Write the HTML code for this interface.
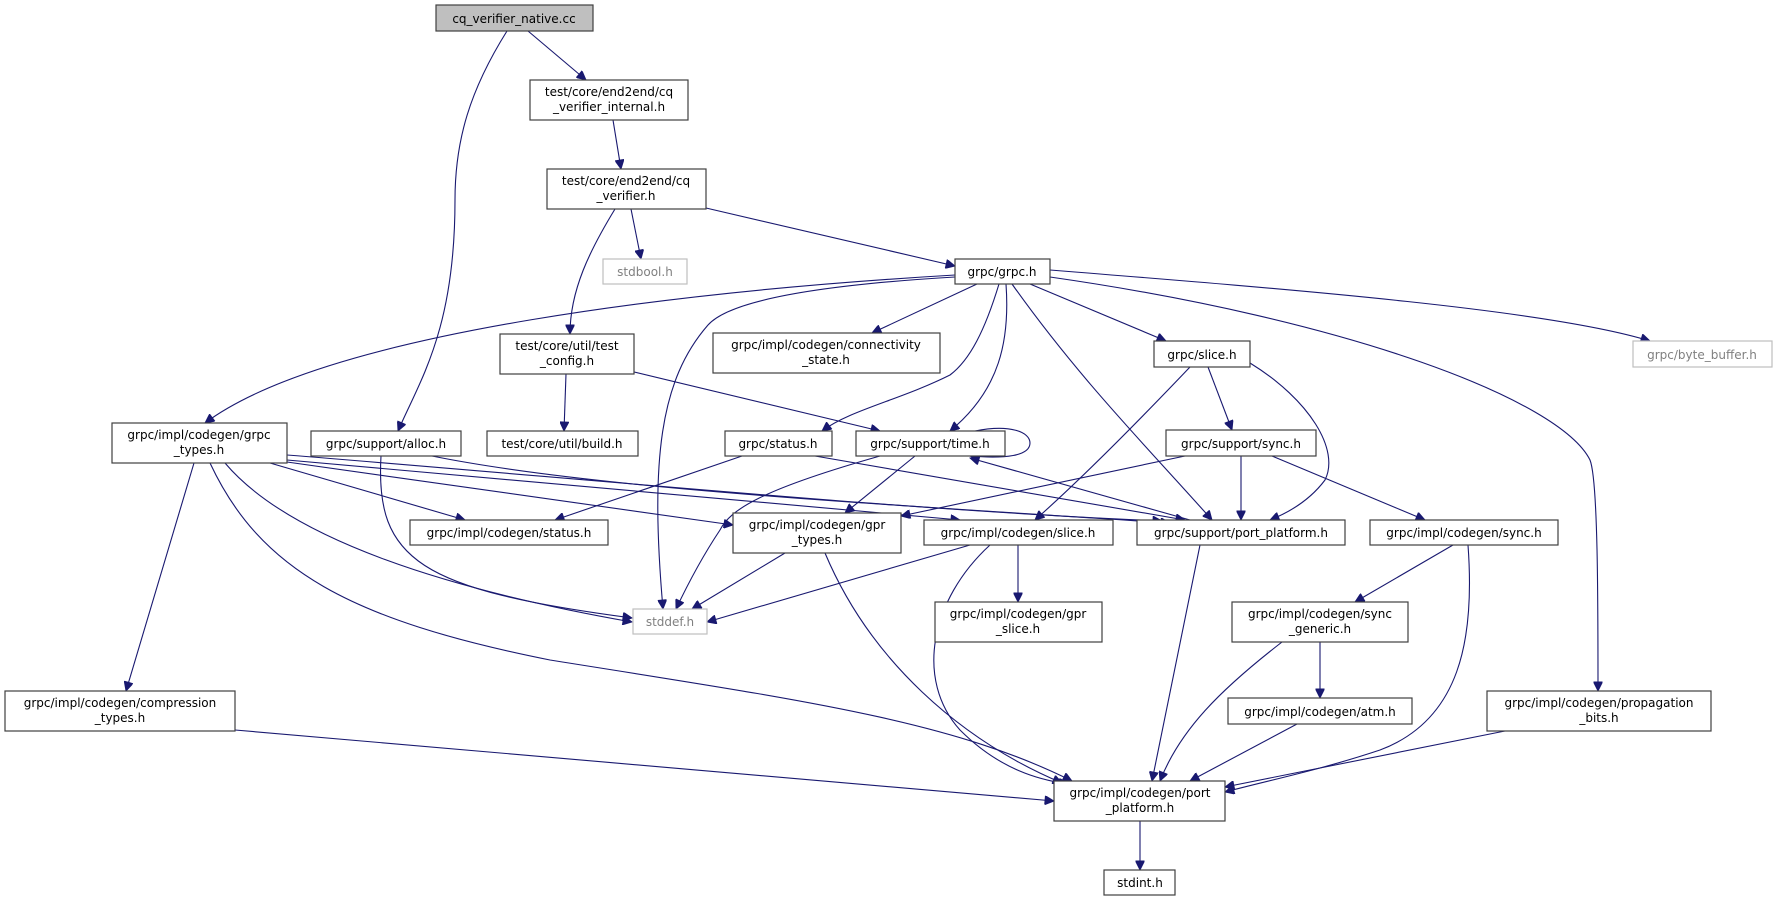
<!DOCTYPE html>
<html><head><meta charset="utf-8"><style>
html,body{margin:0;padding:0;background:#fff;}
svg{display:block}
text{font-family:"DejaVu Sans","Liberation Sans",sans-serif;font-size:12px;fill:#000;text-anchor:middle}
.b{fill:#fff;stroke:#404040;stroke-width:1.2}
.g{fill:#fff;stroke:#bfbfbf;stroke-width:1.2}
.e{fill:none;stroke:#191970;stroke-width:1.1}
.t{fill:#808080}
</style></head><body>
<svg width="1777" height="901" viewBox="0 0 1777 901" xmlns="http://www.w3.org/2000/svg">
<defs><marker id="a" viewBox="0 0 10 10" refX="10" refY="5" markerWidth="11" markerHeight="9" markerUnits="userSpaceOnUse" orient="auto"><path d="M0,0 L10,5 L0,10 z" fill="#191970" stroke="#191970"/></marker></defs>
<g marker-end="url(#a)">
<path class="e" d="M528,31 L586,80"/>
<path class="e" d="M507,31 C470,90 455,140 455,200 C455,330 420,380 398,431"/>
<path class="e" d="M613,120 L621,169"/>
<path class="e" d="M631,209 L641,259"/>
<path class="e" d="M706,208 L955,266"/>
<path class="e" d="M615,209 C590,250 570,290 570,334"/>
<path class="e" d="M977,284 L872,333"/>
<path class="e" d="M1030,284 L1166,341"/>
<path class="e" d="M1050,270 C1300,290 1550,310 1650,341"/>
<path class="e" d="M955,275 C700,290 330,330 205,423"/>
<path class="e" d="M955,277 C820,285 730,300 708,325 C660,380 650,460 663,609"/>
<path class="e" d="M999,284 C985,330 970,360 950,375 C900,400 850,410 822,431"/>
<path class="e" d="M1006,284 C1010,340 1000,390 950,431"/>
<path class="e" d="M1012,284 C1080,380 1150,450 1212,520"/>
<path class="e" d="M1050,277 C1350,320 1560,400 1590,460 C1598,480 1598,600 1598,691"/>
<path class="e" d="M566,374 L564,431"/>
<path class="e" d="M634,372 L880,431"/>
<path class="e" d="M1208,367 L1232,430"/>
<path class="e" d="M1190,367 C1130,430 1080,480 1035,520"/>
<path class="e" d="M1250,363 C1310,400 1340,450 1325,480 C1310,500 1290,512 1270,520"/>
<path class="e" d="M270,463 L465,520"/>
<path class="e" d="M287,462 L733,525"/>
<path class="e" d="M287,460 L960,520"/>
<path class="e" d="M287,455 C600,480 900,510 1162,521"/>
<path class="e" d="M225,463 C290,540 450,590 632,622"/>
<path class="e" d="M194,463 L126,691"/>
<path class="e" d="M210,463 C260,570 350,620 550,660 C800,700 950,720 1072,781"/>
<path class="e" d="M432,456 C600,490 900,505 1170,523"/>
<path class="e" d="M381,456 C375,560 420,590 632,618"/>
<path class="e" d="M742,456 L555,520"/>
<path class="e" d="M815,456 L1185,520"/>
<path class="e" d="M975,431 C1010,424 1030,432 1030,443 C1030,456 1005,459 970,456"/>
<path class="e" d="M915,456 L845,513"/>
<path class="e" d="M880,456 C760,490 730,510 720,530 C700,560 685,590 676,609"/>
<path class="e" d="M1185,456 L901,516"/>
<path class="e" d="M1241,456 L1241,520"/>
<path class="e" d="M1272,456 L1425,520"/>
<path class="e" d="M1190,520 L970,458"/>
<path class="e" d="M970,545 L707,622"/>
<path class="e" d="M1018,545 L1018,602"/>
<path class="e" d="M990,545 C930,600 915,680 960,730 C1000,770 1040,780 1068,784"/>
<path class="e" d="M785,553 L692,609"/>
<path class="e" d="M825,553 C870,660 960,740 1062,783"/>
<path class="e" d="M1200,545 L1152,781"/>
<path class="e" d="M1453,545 L1355,602"/>
<path class="e" d="M1468,545 C1475,640 1460,720 1380,750 C1320,770 1270,780 1225,792"/>
<path class="e" d="M1282,642 C1220,690 1180,730 1160,781"/>
<path class="e" d="M1320,642 L1320,698"/>
<path class="e" d="M1297,724 L1190,781"/>
<path class="e" d="M1505,731 L1225,787"/>
<path class="e" d="M235,730 L1054,801"/>
<path class="e" d="M1140,821 L1140,870"/>
</g>
<rect x="436" y="5" width="157" height="26" fill="#bfbfbf" stroke="#404040" stroke-width="1.2"/><text x="514" y="23">cq_verifier_native.cc</text>
<rect class="b" x="530" y="80" width="158" height="40"/><text x="609" y="96">test/core/end2end/cq</text><text x="609" y="111">_verifier_internal.h</text>
<rect class="b" x="547" y="169" width="159" height="40"/><text x="626" y="185">test/core/end2end/cq</text><text x="626" y="200">_verifier.h</text>
<rect class="g" x="603" y="259" width="84" height="25"/><text class="t" x="645" y="276">stdbool.h</text>
<rect class="b" x="955" y="259" width="95" height="25"/><text x="1002" y="276">grpc/grpc.h</text>
<rect class="b" x="500" y="334" width="134" height="40"/><text x="567" y="350">test/core/util/test</text><text x="567" y="365">_config.h</text>
<rect class="b" x="713" y="333" width="227" height="40"/><text x="826" y="349">grpc/impl/codegen/connectivity</text><text x="826" y="364">_state.h</text>
<rect class="b" x="1154" y="341" width="96" height="26"/><text x="1202" y="359">grpc/slice.h</text>
<rect class="g" x="1633" y="341" width="139" height="26"/><text class="t" x="1702" y="359">grpc/byte_buffer.h</text>
<rect class="b" x="112" y="423" width="175" height="40"/><text x="199" y="439">grpc/impl/codegen/grpc</text><text x="199" y="454">_types.h</text>
<rect class="b" x="311" y="431" width="150" height="25"/><text x="386" y="448">grpc/support/alloc.h</text>
<rect class="b" x="487" y="431" width="151" height="25"/><text x="562" y="448">test/core/util/build.h</text>
<rect class="b" x="725" y="431" width="107" height="25"/><text x="778" y="448">grpc/status.h</text>
<rect class="b" x="856" y="431" width="149" height="25"/><text x="930" y="448">grpc/support/time.h</text>
<rect class="b" x="1166" y="430" width="150" height="26"/><text x="1241" y="448">grpc/support/sync.h</text>
<rect class="b" x="410" y="520" width="198" height="25"/><text x="509" y="537">grpc/impl/codegen/status.h</text>
<rect class="b" x="733" y="513" width="168" height="40"/><text x="817" y="529">grpc/impl/codegen/gpr</text><text x="817" y="544">_types.h</text>
<rect class="b" x="924" y="520" width="189" height="25"/><text x="1018" y="537">grpc/impl/codegen/slice.h</text>
<rect class="b" x="1137" y="520" width="208" height="25"/><text x="1241" y="537">grpc/support/port_platform.h</text>
<rect class="b" x="1370" y="520" width="188" height="25"/><text x="1464" y="537">grpc/impl/codegen/sync.h</text>
<rect class="g" x="633" y="609" width="74" height="25"/><text class="t" x="670" y="626">stddef.h</text>
<rect class="b" x="935" y="602" width="167" height="40"/><text x="1018" y="618">grpc/impl/codegen/gpr</text><text x="1018" y="633">_slice.h</text>
<rect class="b" x="1232" y="602" width="176" height="40"/><text x="1320" y="618">grpc/impl/codegen/sync</text><text x="1320" y="633">_generic.h</text>
<rect class="b" x="5" y="691" width="230" height="40"/><text x="120" y="707">grpc/impl/codegen/compression</text><text x="120" y="722">_types.h</text>
<rect class="b" x="1228" y="698" width="184" height="26"/><text x="1320" y="716">grpc/impl/codegen/atm.h</text>
<rect class="b" x="1487" y="691" width="224" height="40"/><text x="1599" y="707">grpc/impl/codegen/propagation</text><text x="1599" y="722">_bits.h</text>
<rect class="b" x="1054" y="781" width="171" height="40"/><text x="1140" y="797">grpc/impl/codegen/port</text><text x="1140" y="812">_platform.h</text>
<rect class="b" x="1104" y="870" width="71" height="25"/><text x="1140" y="887">stdint.h</text>
</svg>
</body></html>
